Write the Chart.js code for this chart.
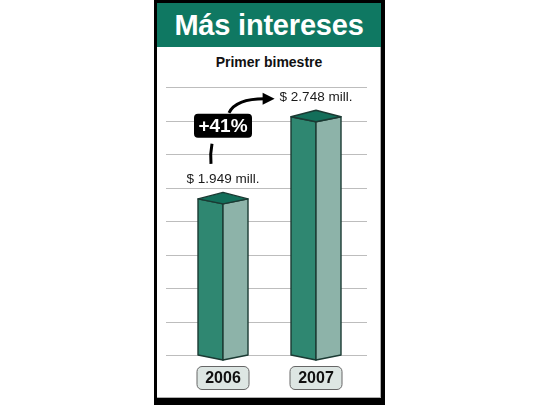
<!DOCTYPE html>
<html>
<head>
<meta charset="utf-8">
<script src="https://cdn.jsdelivr.net/npm/chart.js@4"></script>
<style>
  html, body { margin: 0; padding: 0; background: #fff; }
  body { width: 540px; height: 405px; position: relative; overflow: hidden;
         font-family: "Liberation Sans", Arial, sans-serif; }
  #frame { position: absolute; left: 154px; top: 0; width: 231px; height: 405px;
           box-sizing: border-box; border-style: solid; border-color: #000;
           border-width: 3px 4px 7px 3px; background: #fff;
           box-shadow: inset -1px -1px 0 #b0b0b0; }
  #head { position: absolute; left: 157px; top: 3px; width: 224px; height: 44px;
          background: #0f7862; color: #fff; font-weight: bold; font-size: 29px;
          line-height: 44px; text-align: center; letter-spacing: -0.2px; }
  #sub { position: absolute; left: 157px; top: 47px; width: 224px; height: 30px;
         line-height: 30px; text-align: center; font-weight: bold; font-size: 14px; color: #111; }
  #plot { position: absolute; left: 157px; top: 47px; width: 224px; height: 351px; }
</style>
</head>
<body>
<div id="frame"></div>
<div id="head">Más intereses</div>
<div id="sub">Primer bimestre</div>
<div id="plot"><canvas id="chart"></canvas></div>
<script>
// Data
const YEARS = ['2006', '2007'];
const INTERESES = [1949, 2748];           // millones de $
const GRID_VALUES = [430, 756, 1082, 1408, 1734, 2060, 2386, 2712, 3038];

const C = {
  dark:  '#2f8771',
  light: '#8db3a9',
  top:   '#136f5a',
  edge:  '#1b3a33',
  grid:  '#bdbdbd',
  tagBg: '#dde6e3',
};
const FONT = '"Liberation Sans", Arial, sans-serif';

const fmtMill = (v) => '$ ' + String(v).replace(/\B(?=(\d{3})+(?!\d))/g, '.') + ' mill.';

// horizontal guide lines, a bit wider than the category band
const gridLines = {
  id: 'gridLines',
  beforeDatasetsDraw(chart) {
    const { ctx, chartArea: a } = chart;
    const y = chart.scales.y;
    ctx.save();
    ctx.strokeStyle = C.grid;
    ctx.lineWidth = 1;
    y.ticks.forEach(t => {
      const py = Math.round(y.getPixelForValue(t.value)) + 0.5;
      ctx.beginPath();
      ctx.moveTo(a.left - 10.5, py);
      ctx.lineTo(a.right + 4.5, py);
      ctx.stroke();
    });
    ctx.restore();
  }
};

// 3D prism bars, value labels, year tags and the +% arrow
const prismBars = {
  id: 'prismBars',
  afterDatasetsDraw(chart) {
    const { ctx } = chart;
    const yScale = chart.scales.y;
    const bars = chart.getDatasetMeta(0).data;
    const data = chart.data.datasets[0].data;
    const base = yScale.getPixelForValue(yScale.min);
    ctx.save();
    ctx.lineJoin = 'round';
    bars.forEach((b, i) => {
      const x = b.x, y = b.y, h = b.width / 2;
      const front = 5, back = 6.5;
      ctx.strokeStyle = C.edge;
      ctx.lineWidth = 1.4;
      const poly = (pts, fill) => {
        ctx.beginPath();
        ctx.moveTo(pts[0][0], pts[0][1]);
        pts.slice(1).forEach(p => ctx.lineTo(p[0], p[1]));
        ctx.closePath();
        ctx.fillStyle = fill;
        ctx.fill();
        ctx.stroke();
      };
      poly([[x - h, y], [x, y + front], [x, base + front], [x - h, base]], C.dark);
      poly([[x, y + front], [x + h, y], [x + h, base], [x, base + front]], C.light);
      poly([[x - h, y], [x, y - back], [x + h, y], [x, y + front]], C.top);

      // value label
      ctx.fillStyle = '#1a1a1a';
      ctx.font = '13.5px ' + FONT;
      ctx.textAlign = 'center';
      ctx.textBaseline = 'middle';
      ctx.fillText(fmtMill(data[i]), x, y - 20);

      // year tag under the bar
      const ty = base + 23, tw = 52, th = 23;
      ctx.beginPath();
      ctx.roundRect(x - tw / 2, ty - th / 2, tw, th, 5);
      ctx.fillStyle = C.tagBg;
      ctx.fill();
      ctx.lineWidth = 1;
      ctx.strokeStyle = '#666';
      ctx.stroke();
      ctx.fillStyle = '#111';
      ctx.font = 'bold 16px ' + FONT;
      ctx.fillText(chart.data.labels[i], x, ty + 1);
    });

    // growth badge
    const b0 = bars[0], b1 = bars[1];
    const pct = Math.round((data[1] / data[0] - 1) * 100);
    const bx = b0.x, by = b1.y + 9, bw = 58, bh = 24;
    ctx.beginPath();
    ctx.roundRect(bx - bw / 2, by - bh / 2, bw, bh, 4);
    ctx.fillStyle = '#000';
    ctx.fill();
    ctx.fillStyle = '#fff';
    ctx.font = 'bold 19px ' + FONT;
    ctx.textAlign = 'center';
    ctx.textBaseline = 'middle';
    ctx.fillText('+' + pct + '%', bx, by + 1);

    // arrow: tail under the badge, head towards the 2007 label
    ctx.strokeStyle = '#000';
    ctx.lineWidth = 3;
    ctx.lineCap = 'butt';
    ctx.beginPath();
    ctx.moveTo(bx - 11, by + bh / 2 + 6);
    ctx.quadraticCurveTo(bx - 13, by + bh / 2 + 16, bx - 12, by + bh / 2 + 26);
    ctx.stroke();

    ctx.font = '13.5px ' + FONT;
    const tipX = b1.x - ctx.measureText(fmtMill(data[1])).width / 2 - 5;
    const tipY = b1.y - 18;
    ctx.beginPath();
    ctx.moveTo(bx + 6, by - bh / 2 - 1);
    ctx.quadraticCurveTo(bx + 13, tipY, tipX - 10, tipY);
    ctx.stroke();
    ctx.beginPath();
    ctx.moveTo(tipX, tipY);
    ctx.lineTo(tipX - 12, tipY - 6);
    ctx.lineTo(tipX - 12, tipY + 6);
    ctx.closePath();
    ctx.fillStyle = '#000';
    ctx.fill();
    ctx.restore();
  }
};

new Chart(document.getElementById('chart'), {
  type: 'bar',
  data: {
    labels: YEARS,
    datasets: [{
      label: 'Intereses',
      data: INTERESES,
      backgroundColor: 'transparent',
      borderWidth: 0,
      barThickness: 50,
    }]
  },
  options: {
    responsive: true,
    maintainAspectRatio: false,
    animation: false,
    layout: { padding: { left: 19.5, right: 18.5, top: 40, bottom: 43 } },
    plugins: {
      legend: { display: false },
      tooltip: { enabled: false },
    },
    scales: {
      x: { display: false },
      y: {
        display: false,
        min: 430,
        max: 3038,
        afterBuildTicks: (axis) => { axis.ticks = GRID_VALUES.map(v => ({ value: v })); },
      }
    }
  },
  plugins: [gridLines, prismBars]
});
</script>
</body>
</html>
